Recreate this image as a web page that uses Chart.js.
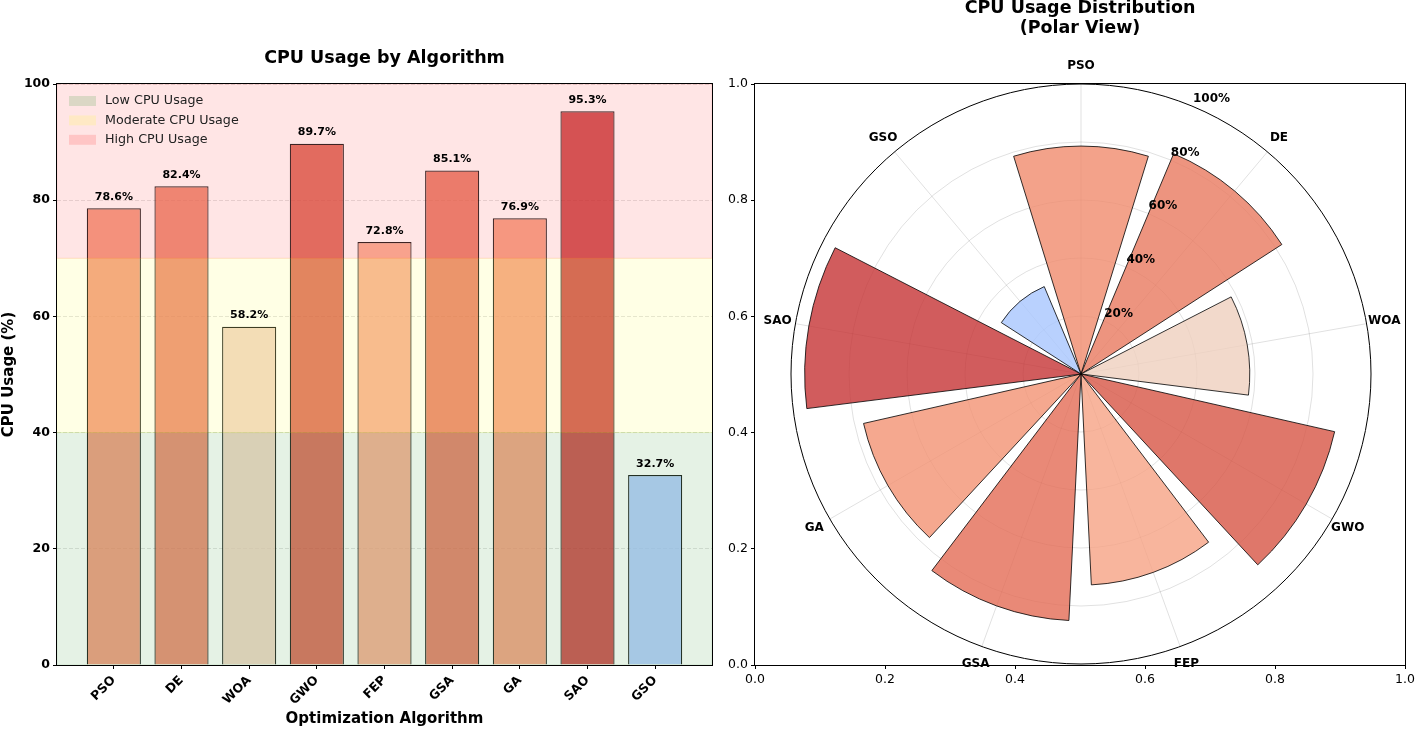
<!DOCTYPE html>
<html>
<head>
<meta charset="utf-8">
<script src="https://cdn.jsdelivr.net/npm/chart.js@4.4.0/dist/chart.umd.min.js"></script>
<style>
  html, body { margin: 0; padding: 0; background: #fff; }
  #wrap { position: relative; width: 1418px; height: 729px; overflow: hidden; }
  canvas { position: absolute; top: 0; }
  #barChart { left: 0; }
  #frameChart, #polarChart { left: 720px; }
</style>
</head>
<body>
<div id="wrap">
  <canvas id="barChart" width="720" height="729"></canvas>
  <canvas id="frameChart" width="698" height="729"></canvas>
  <canvas id="polarChart" width="698" height="729"></canvas>
</div>
<script>
// ---- data ----
const algorithms = ["PSO", "DE", "WOA", "GWO", "FEP", "GSA", "GA", "SAO", "GSO"];
const cpuUsage = [78.6, 82.4, 58.2, 89.7, 72.8, 85.1, 76.9, 95.3, 32.7];

const bandLabels = ["Low CPU Usage", "Moderate CPU Usage", "High CPU Usage"];
const bandLimits = [0, 40, 70, 100];

const yTicks = [0, 20, 40, 60, 80, 100];
const polarTicks = [20, 40, 60, 80, 100];
const frameTicks = [0, 0.2, 0.4, 0.6, 0.8, 1.0];

// ---- styles ----
const bandColors = ["0,128,0", "255,255,0", "255,0,0"];
const FONT = "'DejaVu Sans', sans-serif";

// matplotlib coolwarm
const COOLWARM = [
  [0.2298057, 0.298717966, 0.753683153], [0.26623388, 0.353094838, 0.801466763],
  [0.30386891, 0.406535296, 0.84495867], [0.342804478, 0.458757618, 0.883725899],
  [0.38301334, 0.50941904, 0.917387822], [0.424369608, 0.558148092, 0.945619588],
  [0.46666708, 0.604562568, 0.968154911], [0.509635204, 0.648280772, 0.98478814],
  [0.552953156, 0.688929332, 0.995375608], [0.596262162, 0.726149107, 0.999836203],
  [0.639176211, 0.759599947, 0.998151185], [0.681291281, 0.788964712, 0.990363227],
  [0.722193294, 0.813952739, 0.976574709], [0.761464949, 0.834302879, 0.956945269],
  [0.798691636, 0.849786142, 0.931688648], [0.833466556, 0.860207984, 0.901068838],
  [0.865395197, 0.86541021, 0.865395561], [0.897787179, 0.848937047, 0.820880546],
  [0.924127593, 0.827384882, 0.774508472], [0.944468518, 0.800927443, 0.726736146],
  [0.958852946, 0.769767752, 0.678007945], [0.96732803, 0.734132809, 0.628751763],
  [0.969954137, 0.694266682, 0.579375448], [0.966811177, 0.650421156, 0.530263762],
  [0.958003065, 0.602842431, 0.481775914], [0.943660866, 0.551750968, 0.434243684],
  [0.923944917, 0.49730856, 0.387970225], [0.89904617, 0.439559467, 0.343229596],
  [0.869186849, 0.378313092, 0.300267182], [0.834620542, 0.312874446, 0.259301199],
  [0.795631745, 0.24128379, 0.220525627], [0.752534934, 0.157246067, 0.184115123],
  [0.705673158, 0.01555616, 0.150232812]
];

function coolwarm(t, alpha) {
  t = Math.min(1, Math.max(0, t));
  const p = t * (COOLWARM.length - 1);
  const i = Math.min(Math.floor(p), COOLWARM.length - 2);
  const f = p - i;
  const c = COOLWARM[i].map((v, k) => Math.round(255 * (v + (COOLWARM[i + 1][k] - v) * f)));
  return `rgba(${c[0]},${c[1]},${c[2]},${alpha})`;
}

Chart.defaults.font.family = FONT;
Chart.defaults.color = "#000";

function drawFrame(ctx, a) {
  ctx.save();
  ctx.strokeStyle = "#000";
  ctx.lineWidth = 1;
  ctx.strokeRect(Math.round(a.left) - 0.5, Math.round(a.top) - 0.5,
                 Math.round(a.width) + 1, Math.round(a.height) + 1);
  ctx.restore();
}

// ---- left: bar chart ----
const bandPlugin = {
  id: "bands",
  afterDatasetsDraw(chart) {
    const { ctx, chartArea: a, scales: { y } } = chart;
    ctx.save();

    // usage bands, drawn over the bars like axhspan
    bandLabels.forEach((lab, i) => {
      const top = y.getPixelForValue(bandLimits[i + 1]);
      const bot = y.getPixelForValue(bandLimits[i]);
      ctx.fillStyle = `rgba(${bandColors[i]},0.1)`;
      ctx.strokeStyle = `rgba(${bandColors[i]},0.1)`;
      ctx.lineWidth = 1;
      ctx.fillRect(a.left, top, a.width, bot - top);
      ctx.strokeRect(a.left, top, a.width, bot - top);
    });

    // value labels
    const bars = chart.getDatasetMeta(0).data;
    ctx.font = "bold 11px " + FONT;
    ctx.fillStyle = "#000";
    ctx.textAlign = "center";
    ctx.textBaseline = "bottom";
    cpuUsage.forEach((v, i) => {
      ctx.fillText(v.toFixed(1) + "%", bars[i].x, y.getPixelForValue(v + 1));
    });

    // legend
    ctx.font = "12.7px " + FONT;
    ctx.textAlign = "left";
    ctx.textBaseline = "middle";
    bandLabels.forEach((lab, i) => {
      const cy = a.top + 17 + i * 19.4;
      ctx.fillStyle = `rgba(${bandColors[i]},0.14)`;
      ctx.fillRect(a.left + 12, cy - 5, 27, 10);
      ctx.fillStyle = "#222";
      ctx.fillText(lab, a.left + 48, cy);
    });

    ctx.restore();
    drawFrame(ctx, a);
  }
};

new Chart(document.getElementById("barChart"), {
  type: "bar",
  data: {
    datasets: [{
      data: cpuUsage.map((v, i) => ({ x: i, y: v })),
      backgroundColor: cpuUsage.map(v => coolwarm(v / 100, 0.8)),
      borderColor: "rgba(0,0,0,0.85)",
      borderWidth: 1.2,
      categoryPercentage: 0.8,
      barPercentage: 1.0
    }]
  },
  options: {
    responsive: false,
    animation: false,
    layout: { padding: { left: 0, right: 8, top: 0, bottom: 0 } },
    plugins: {
      legend: { display: false },
      tooltip: { enabled: false },
      title: {
        display: true,
        text: "CPU Usage by Algorithm",
        fullSize: false,
        font: { size: 17.5, weight: "bold" },
        padding: { top: 48, bottom: 15 }
      }
    },
    scales: {
      x: {
        type: "linear",
        min: -0.84,
        max: 8.84,
        offset: false,
        afterBuildTicks: s => { s.ticks = algorithms.map((a, i) => ({ value: i })); },
        ticks: {
          callback: v => algorithms[v],
          minRotation: 45,
          maxRotation: 45,
          autoSkip: false,
          padding: 4,
          font: { size: 12.5, weight: "bold" }
        },
        grid: { offset: false, drawOnChartArea: false, tickLength: 4, tickColor: "#000" },
        border: { display: false },
        title: {
          display: true,
          text: "Optimization Algorithm",
          font: { size: 15, weight: "bold" },
          padding: { top: 0, bottom: 1 }
        },
        afterFit: s => { s.height = 64; }
      },
      y: {
        min: 0,
        max: 100,
        afterBuildTicks: s => { s.ticks = yTicks.map(v => ({ value: v })); },
        ticks: { padding: 3, font: { size: 12.5, weight: "bold" } },
        grid: { color: "rgba(176,176,176,0.35)", tickLength: 4, tickColor: "#000" },
        border: { display: false, dash: [4, 2] },
        title: {
          display: true,
          text: "CPU Usage (%)",
          font: { size: 15, weight: "bold" },
          padding: { top: 0, bottom: 0 }
        },
        afterFit: s => { s.width = 57; }
      }
    }
  },
  plugins: [bandPlugin]
});

// ---- right: cartesian frame behind the polar view ----
new Chart(document.getElementById("frameChart"), {
  type: "scatter",
  data: { datasets: [{ data: [] }] },
  options: {
    responsive: false,
    animation: false,
    layout: { padding: { left: 0, right: 10, top: 0, bottom: 0 } },
    plugins: {
      legend: { display: false },
      tooltip: { enabled: false },
      title: {
        display: true,
        text: ["CPU Usage Distribution", "(Polar View)"],
        fullSize: false,
        font: { size: 17.5, weight: "bold", lineHeight: 1.15 },
        padding: { top: -2, bottom: 45.75 }
      }
    },
    scales: {
      x: {
        min: 0, max: 1,
        afterBuildTicks: s => { s.ticks = frameTicks.map(v => ({ value: v })); },
        ticks: { callback: v => v.toFixed(1), padding: 3, font: { size: 12.5 } },
        grid: { drawOnChartArea: false, tickLength: 4, tickColor: "#000" },
        border: { display: false },
        afterFit: s => { s.height = 64; }
      },
      y: {
        min: 0, max: 1,
        afterBuildTicks: s => { s.ticks = frameTicks.map(v => ({ value: v })); },
        ticks: { callback: v => v.toFixed(1), padding: 3, font: { size: 12.5 } },
        grid: { drawOnChartArea: false, tickLength: 4, tickColor: "#000" },
        border: { display: false },
        afterFit: s => { s.width = 35; }
      }
    }
  },
  plugins: [{ id: "frame", afterDraw(chart) { drawFrame(chart.ctx, chart.chartArea); } }]
});

// ---- right: polar bars ----
const BAR_ANGLE = 0.6 * 180 / Math.PI;       // bar width in degrees
const STEP = 360 / algorithms.length;
const slotValues = [], slotAngles = [], slotFill = [], slotBorder = [];
cpuUsage.forEach(v => {
  slotValues.push(v, 0);
  slotAngles.push(BAR_ANGLE, STEP - BAR_ANGLE);
  slotFill.push(coolwarm(v / 100, 0.8), "rgba(0,0,0,0)");
  slotBorder.push(1, 0);
});
const slotLabels = algorithms.flatMap(a => [a, ""]);

const polarDecor = {
  id: "polarDecor",
  beforeDatasetsDraw(chart) {
    const r = chart.scales.r;
    const ctx = chart.ctx;
    const R = r.getDistanceFromCenterForValue(100);
    ctx.save();
    ctx.strokeStyle = "rgba(0,0,0,0.12)";
    ctx.lineWidth = 1;
    algorithms.forEach((a, i) => {
      const th = (i * STEP - 90) * Math.PI / 180;
      ctx.beginPath();
      ctx.moveTo(r.xCenter, r.yCenter);
      ctx.lineTo(r.xCenter + R * Math.cos(th), r.yCenter + R * Math.sin(th));
      ctx.stroke();
    });
    ctx.restore();
  },
  afterDatasetsDraw(chart) {
    const r = chart.scales.r;
    const ctx = chart.ctx;
    const R = r.getDistanceFromCenterForValue(100);
    ctx.save();
    ctx.fillStyle = "#000";
    ctx.font = "bold 12px " + FONT;
    ctx.textAlign = "center";
    ctx.textBaseline = "middle";
    algorithms.forEach((a, i) => {
      const th = (i * STEP - 90) * Math.PI / 180;
      ctx.fillText(a, r.xCenter + (R + 18) * Math.cos(th), r.yCenter + (R + 18) * Math.sin(th));
    });
    const la = 22.5 * Math.PI / 180;
    ctx.textAlign = "left";
    ctx.textBaseline = "bottom";
    polarTicks.forEach(t => {
      const d = r.getDistanceFromCenterForValue(t);
      ctx.fillText(t + "%", r.xCenter + d * Math.sin(la) + 1, r.yCenter - d * Math.cos(la) - 1);
    });
    ctx.restore();
  }
};

new Chart(document.getElementById("polarChart"), {
  type: "polarArea",
  data: {
    labels: slotLabels,
    datasets: [{
      data: slotValues,
      backgroundColor: slotFill,
      borderColor: "rgba(0,0,0,0.8)",
      borderWidth: slotBorder,
      angle: ctx => slotAngles[ctx.dataIndex]
    }]
  },
  options: {
    responsive: false,
    animation: false,
    layout: { padding: { left: 35, right: 10, top: 84, bottom: 64 } },
    plugins: { legend: { display: false }, tooltip: { enabled: false } },
    scales: {
      r: {
        min: 0,
        max: 100,
        startAngle: -BAR_ANGLE / 2,
        afterBuildTicks: s => { s.ticks = [0].concat(polarTicks).map(v => ({ value: v })); },
        ticks: { display: false },
        grid: {
          circular: true,
          lineWidth: 1,
          color: c => (c.tick && c.tick.value === 100) ? "#000" : "rgba(0,0,0,0.12)"
        },
        angleLines: { display: false },
        pointLabels: { display: false }
      }
    }
  },
  plugins: [polarDecor]
});
</script>
</body>
</html>
